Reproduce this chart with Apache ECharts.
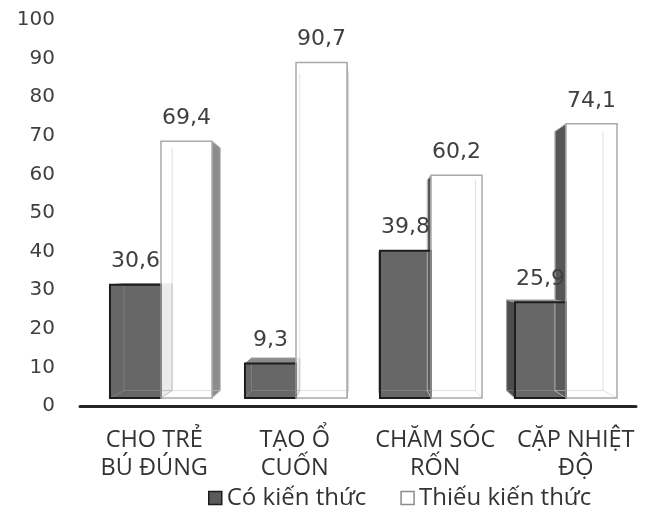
<!DOCTYPE html>
<html>
<head>
<meta charset="utf-8">
<script src="https://cdn.jsdelivr.net/npm/echarts@6/dist/echarts.min.js"></script>
<style>
  html, body { margin: 0; padding: 0; background: #ffffff; }
  #chart { width: 651px; height: 506px; }
</style>
</head>
<body>
<div id="chart"></div>
<script>
// Categories and values (percent)
const categories = ['CHO TRẺ\nBÚ ĐÚNG', 'TẠO Ổ\nCUỐN', 'CHĂM SÓC\nRỐN', 'CẶP NHIỆT\nĐỘ'];
const coKienThuc = [30.6, 9.3, 39.8, 25.9];
const thieuKienThuc = [69.4, 90.7, 60.2, 74.1];
const seriesNames = ['Có kiến thức', 'Thiếu kiến thức'];
const yMin = 0, yMax = 100, yStep = 10;

// Box look: bar width share of a category, depth scale toward the vanishing point,
// and the value height at which the eye sits.
const BAR_FRAC = 0.378;
const DEPTH = 0.945;
const EYE_LEVEL = 36.5;

const darkPal = {
  front: '#5b5b5b', frontOpacity: 0.93, outline: '#1d1d1d', outlineW: 2,
  left: '#4d4d4d', right: '#707070', top: '#8a8a8a', faceStroke: '#9a9a9a',
  inner: 'rgba(150,150,150,0.5)'
};
const lightPal = {
  front: '#ffffff', frontOpacity: 0.86, outline: '#a9a9a9', outlineW: 1.5,
  left: '#575757', right: '#8c8c8c', top: '#eeeeee', faceStroke: '#b5b5b5',
  inner: 'rgba(205,205,205,0.6)'
};

function fmt(v) { return String(v).replace('.', ','); }

function makeBox(side, pal) {
  return function (params, api) {
    const ci = api.value(0);
    const v = api.value(1);
    const base = api.coord([ci, 0]);
    const top = api.coord([ci, v]);
    const bw = api.size([1, 0])[0] * BAR_FRAC;
    const xl = side < 0 ? base[0] - bw : base[0];
    const xr = xl + bw;
    const yt = top[1], yb = base[1];
    const p1 = api.coord([1, EYE_LEVEL]);
    const p2 = api.coord([2, EYE_LEVEL]);
    const vx = (p1[0] + p2[0]) / 2, vy = p1[1];
    const bk = (x, y) => [vx + (x - vx) * DEPTH, vy + (y - vy) * DEPTH];

    const FTL = [xl, yt], FTR = [xr, yt], FBL = [xl, yb], FBR = [xr, yb];
    const BTL = bk(xl, yt), BTR = bk(xr, yt), BBL = bk(xl, yb), BBR = bk(xr, yb);

    const kids = [];
    const face = (pts, fill, z2) => kids.push({
      type: 'polygon', z2: z2,
      shape: { points: pts },
      style: { fill: fill, stroke: pal.faceStroke, lineWidth: 1 }
    });
    const edge = (a, b) => kids.push({
      type: 'line', z2: 5,
      shape: { x1: a[0], y1: a[1], x2: b[0], y2: b[1] },
      style: { stroke: pal.inner, lineWidth: 1 }
    });

    // hidden back edges, seen through the faces
    edge(BTL, BBL); edge(BTR, BBR); edge(BBL, BBR);
    edge(FBL, BBL); edge(FBR, BBR);

    if (xl > vx) face([FTL, FBL, BBL, BTL], pal.left, 2);
    if (xr < vx) face([FTR, FBR, BBR, BTR], pal.right, 2);
    if (yt > vy) face([FTL, FTR, BTR, BTL], pal.top, 3);

    kids.push({
      type: 'rect', z2: 4,
      shape: { x: xl, y: yt, width: bw, height: yb - yt },
      style: { fill: pal.front, opacity: pal.frontOpacity }
    });
    kids.push({
      type: 'rect', z2: 6,
      shape: { x: xl, y: yt, width: bw, height: yb - yt },
      style: { fill: null, stroke: pal.outline, lineWidth: pal.outlineW }
    });
    kids.push({
      type: 'text', z2: 10,
      x: (xl + xr) / 2, y: yt - 23,
      style: {
        text: fmt(v), fill: '#3f3f3f',
        font: '22px "DejaVu Sans"', align: 'center', verticalAlign: 'middle'
      }
    });
    return { type: 'group', children: kids };
  };
}

const chart = echarts.init(document.getElementById('chart'), null, { renderer: 'canvas' });

chart.setOption({
  backgroundColor: '#ffffff',
  animation: false,
  grid: [
    // plotting area of the boxes
    { left: 93.5, right: 17.5, top: 28, bottom: 108 },
    // axis frame carrying the ticks and the base line
    { left: 80, right: 15, top: 20, bottom: 100 },
    // band holding the category names
    { left: 84, right: 5, top: 20, bottom: 100 }
  ],
  xAxis: [
    { gridIndex: 0, type: 'category', data: categories, show: false },
    {
      gridIndex: 1, type: 'category', data: categories,
      axisLine: { lineStyle: { color: '#262626', width: 3 } },
      axisTick: { show: false },
      axisLabel: { show: false }
    },
    {
      gridIndex: 2, type: 'category', data: categories,
      axisLine: { show: false },
      axisTick: { show: false },
      axisLabel: {
        color: '#333333', fontFamily: '"Open Sans"', fontSize: 23.5,
        lineHeight: 28, margin: 20, interval: 0
      }
    }
  ],
  yAxis: [
    { gridIndex: 0, type: 'value', min: yMin, max: yMax, show: false },
    {
      gridIndex: 1, type: 'value', min: yMin, max: yMax, interval: yStep,
      axisLine: { show: false }, axisTick: { show: false }, splitLine: { show: false },
      axisLabel: { color: '#3f3f3f', fontFamily: '"DejaVu Sans"', fontSize: 20, margin: 25 }
    },
    { gridIndex: 2, type: 'value', min: yMin, max: yMax, show: false }
  ],
  legend: {
    left: 203, top: 481,
    itemWidth: 13, itemHeight: 13, itemGap: 34, itemTextGap: 8,
    icon: 'rect',
    textStyle: { color: '#333333', fontFamily: '"Open Sans"', fontSize: 24 },
    data: [
      { name: seriesNames[0], itemStyle: { color: '#5b5b5b', borderColor: '#1d1d1d', borderWidth: 1.5 } },
      { name: seriesNames[1], itemStyle: { color: '#ffffff', borderColor: '#8c8c8c', borderWidth: 1.5 } }
    ]
  },
  series: [
    {
      name: seriesNames[0], type: 'custom', xAxisIndex: 0, yAxisIndex: 0,
      itemStyle: { color: '#5b5b5b' },
      renderItem: makeBox(-1, darkPal),
      data: coKienThuc.map((v, i) => [i, v])
    },
    {
      name: seriesNames[1], type: 'custom', xAxisIndex: 0, yAxisIndex: 0,
      itemStyle: { color: '#ffffff' },
      renderItem: makeBox(1, lightPal),
      data: thieuKienThuc.map((v, i) => [i, v])
    }
  ]
});
</script>
</body>
</html>
